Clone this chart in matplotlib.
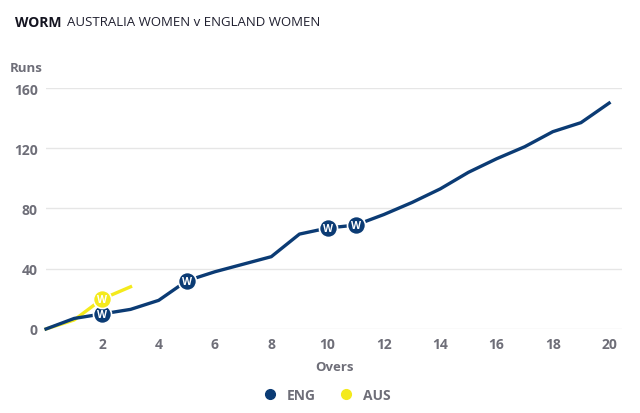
import matplotlib
matplotlib.use("Agg")
import matplotlib.pyplot as plt
from matplotlib.lines import Line2D

plt.rcParams['font.family'] = ['Open Sans', 'DejaVu Sans']

# data
eng_overs = list(range(0, 21))
eng_runs = [0, 7, 10, 13, 19, 32, 38, 43, 48, 63, 67, 69, 76, 84, 93, 104, 113, 121, 131, 137, 150]
eng_wkt_overs = [2, 5, 10, 11]

aus_overs = [0, 1, 2, 3]
aus_runs = [0, 6, 20, 28]
aus_wkt_overs = [2]

eng_col = "#0b3b74"
aus_col = "#f4ea1c"
grey = "#6e6e78"

fig = plt.figure(figsize=(6.4, 4.14), dpi=100)
ax = fig.add_axes([0.072, 0.203, 0.9, 0.582])

ax.plot(eng_overs, eng_runs, color=eng_col, lw=2.4, zorder=3, clip_on=False)
ax.plot(aus_overs, aus_runs, color=aus_col, lw=2.4, zorder=2, clip_on=False)

def wickets(overs, runs, wk, col):
    for o in wk:
        r = runs[overs.index(o)]
        ax.plot(o, r, 'o', ms=13, color=col, mec="white", mew=1.2, zorder=5)
        ax.text(o, r - 0.6, "W", ha='center', va='center', fontsize=7.5, fontweight='bold',
                color="white", zorder=6)

wickets(eng_overs, eng_runs, eng_wkt_overs, eng_col)
wickets(aus_overs, aus_runs, aus_wkt_overs, aus_col)

ax.set_xlim(0, 20.46)
ax.set_ylim(0, 160)
ax.set_xticks(range(2, 21, 2))
ax.set_yticks(range(0, 161, 40))
ax.grid(axis='y', color="#e6e6e6", lw=1)
ax.set_axisbelow(True)
for s in ax.spines.values():
    s.set_visible(False)
ax.tick_params(length=0, labelsize=10, labelcolor=grey, pad=6)
for lab in ax.get_xticklabels() + ax.get_yticklabels():
    lab.set_fontweight('bold')
ax.set_xlabel("Overs", fontsize=9.5, color=grey, fontweight='bold', labelpad=6)

fig.text(0.016, 0.826, "Runs", fontsize=9.5, color=grey, fontweight='bold')
fig.text(0.023, 0.945, "WORM", fontsize=10, color="#141420", fontweight='bold', va='center')
fig.text(0.104, 0.945, "AUSTRALIA WOMEN v ENGLAND WOMEN", fontsize=9.5, color="#202030", va='center')

handles = [Line2D([], [], marker='o', ls='', color=eng_col, ms=7),
           Line2D([], [], marker='o', ls='', color=aus_col, ms=7)]
fig.legend(handles, ["ENG", "AUS"], loc='center', bbox_to_anchor=(0.505, 0.043), ncol=2,
           frameon=False, handletextpad=0.2, columnspacing=1.2,
           prop={'weight': 'bold', 'size': 10})
for t in fig.legends[0].get_texts():
    t.set_color(grey)

fig.savefig("out.png", dpi=100)
